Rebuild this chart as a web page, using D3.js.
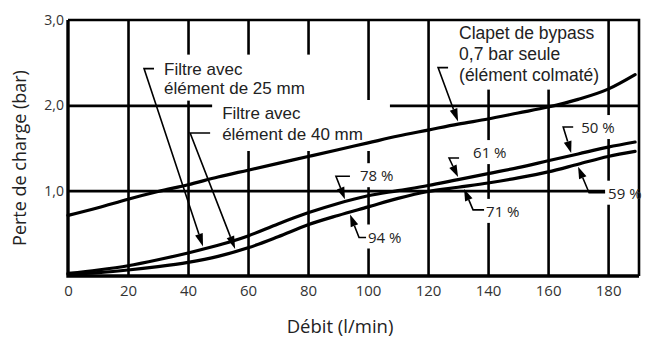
<!DOCTYPE html>
<html><head><meta charset="utf-8">
<script src="https://cdn.jsdelivr.net/npm/d3@7/dist/d3.min.js"></script>
<style>
body{margin:0;background:#fff;}
svg{display:block;}
</style></head>
<body>
<svg id="chart" width="646" height="337"></svg>
<script>
// ---- data ----
const flow     = [0,10,20,30,40,50,60,70,80,90,100,110,120,130,140,150,160,170,180,189];
const bypass   = [0.71,0.80,0.90,0.99,1.07,1.16,1.24,1.32,1.40,1.48,1.56,1.64,1.71,1.78,1.84,1.91,1.98,2.07,2.19,2.36];
const filter25 = [0.03,0.07,0.12,0.19,0.27,0.36,0.47,0.61,0.74,0.85,0.94,1.00,1.06,1.13,1.20,1.27,1.35,1.43,1.51,1.57];
const filter40 = [0.02,0.04,0.07,0.11,0.16,0.23,0.33,0.46,0.60,0.71,0.81,0.91,0.99,1.04,1.09,1.15,1.22,1.31,1.40,1.46];
const xTicks = [0,20,40,60,80,100,120,140,160,180];
const xGrid  = [20,40,60,80,100,120,140,160,180];
const yTicks = [1,2,3];
const yTickLabels = ["1,0","2,0","3,0"];
const yGrid = [1,2];
const xTitle = "Débit (l/min)";
const yTitle = "Perte de charge (bar)";
// annotations: text, target series, flow position
const annLines = [["Filtre avec","élément de 25 mm"],["Filtre avec","élément de 40 mm"],["Clapet de bypass","0,7 bar seule","(élément colmaté)"],["78 %"],["94 %"],["61 %"],["71 %"],["50 %"],["59 %"]];
const annSeries = ["f25","f40","bypass","f25","f40","f25","f40","f25","f40"];
const annFlow = [45,55.7,130,92.3,94,130,132,167.7,170];

// ---- layout / style ----
const W=646,H=337, L=68, R=639, T=20, B=276;
const svg=d3.select("#chart");
const x=d3.scaleLinear().domain([0,190.3]).range([L,R]);
const y=d3.scaleLinear().domain([0,3]).range([B,T]);
const seriesMap={bypass:bypass,f25:filter25,f40:filter40};
const interp=k=>d3.scaleLinear().domain(flow).range(seriesMap[k]);

const annStyle=[
 {side:-1,kink:[-59,-178],tick:10,txt:[20,6],lh:19,fs:17,font:"Liberation Sans, Arial, sans-serif",pad:[5,10,5,3],head:[13,4]},
 {side:-1,kink:[-45,-116],tick:20,txt:[32,-14],lh:21,fs:17,font:"Liberation Sans, Arial, sans-serif",pad:[10,27,4,7],head:[13,4]},
 {side:-1,kink:[-20,-54],tick:10,txt:[21,-29],lh:21,fs:17.5,font:"Liberation Sans, Arial, sans-serif",pad:[4,3,4,5],head:[13,4]},
 {side:-1,kink:[-9,-23],tick:14,txt:[24,5],lh:0,fs:15,font:"Open Sans, sans-serif",pad:[3,3,2,2],head:[12,4]},
 {side:1,kink:[9,23],tick:7,txt:[9,5],lh:0,fs:15,font:"Open Sans, sans-serif",pad:[3,3,2,2],head:[12,4]},
 {side:-1,kink:[-9,-19],tick:10,txt:[24,0],lh:0,fs:15,font:"Open Sans, sans-serif",pad:[3,3,2,2],head:[12,4]},
 {side:1,kink:[9,21],tick:11,txt:[13,7],lh:0,fs:15,font:"Open Sans, sans-serif",pad:[3,3,2,2],head:[12,4]},
 {side:-1,kink:[-8,-26],tick:10,txt:[18,6],lh:0,fs:15,font:"Open Sans, sans-serif",pad:[3,3,2,2],head:[12,4]},
 {side:1,kink:[11,26],tick:16,txt:[19,6],lh:0,fs:15,font:"Open Sans, sans-serif",pad:[3,3,2,2],head:[12,4]}
];

const gridG=svg.append("g");
const maskG=svg.append("g");
const curveG=svg.append("g");
const frameG=svg.append("g");
const leadG=svg.append("g");
const textG=svg.append("g");

// grid via axes
gridG.append("g").attr("transform",`translate(0,${B})`)
 .call(d3.axisBottom(x).tickValues(xGrid).tickSize(-(B-T)).tickFormat(""))
 .call(g=>g.select(".domain").remove())
 .call(g=>g.selectAll("line").attr("stroke","#000").attr("stroke-width",2.6));
gridG.append("g").attr("transform",`translate(${L},0)`)
 .call(d3.axisLeft(y).tickValues(yGrid).tickSize(-(R-L)).tickFormat(""))
 .call(g=>g.select(".domain").remove())
 .call(g=>g.selectAll("line").attr("stroke","#000").attr("stroke-width",2.6));

// tick labels
const xa=svg.append("g").attr("transform",`translate(0,${B})`)
 .call(d3.axisBottom(x).tickValues(xTicks).tickSize(0).tickPadding(9));
xa.select(".domain").remove();
xa.selectAll("text").attr("font-family","Open Sans, sans-serif").attr("font-size",15).attr("fill","#333");
const ya=svg.append("g").attr("transform",`translate(${L},0)`)
 .call(d3.axisLeft(y).tickValues(yTicks).tickSize(0).tickPadding(4).tickFormat((d,i)=>yTickLabels[i]));
ya.select(".domain").remove();
ya.selectAll("text").attr("font-family","Open Sans, sans-serif").attr("font-size",14).attr("fill","#333");

// titles
svg.append("text").attr("x",340).attr("y",333).attr("text-anchor","middle")
 .attr("font-family","Open Sans, sans-serif").attr("font-size",18.5).attr("fill","#222").text(xTitle);
svg.append("text").attr("transform","translate(26,158) rotate(-90)").attr("text-anchor","middle")
 .attr("font-family","Open Sans, sans-serif").attr("font-size",18).attr("fill","#222").text(yTitle);

// curves
const line=d3.line().x((d,i)=>x(flow[i])).y(d=>y(d)).curve(d3.curveMonotoneX);
[bypass,filter25,filter40].forEach(s=>{
 curveG.append("path").attr("d",line(s)).attr("fill","none").attr("stroke","#000").attr("stroke-width",3.2).attr("stroke-linecap","round");
});

// frame
frameG.append("path").attr("d",`M${L},${T}H${R}V${B}`).attr("fill","none").attr("stroke","#000").attr("stroke-width",2.6);
frameG.append("path").attr("d",`M${L},${T}V${B}H${R}`).attr("fill","none").attr("stroke","#000").attr("stroke-width",3.4);

// annotations
annLines.forEach((lines,i)=>{
 const st=annStyle[i];
 const tx=x(annFlow[i]);
 const ty=y(interp(annSeries[i])(annFlow[i]))+st.side*2.5;
 const kx=tx+st.kink[0], ky=ty+st.kink[1];
 const t=textG.append("text").attr("font-family",st.font).attr("font-size",st.fs).attr("fill","#222");
 lines.forEach((s,j)=>t.append("tspan").attr("x",kx+st.txt[0]).attr("y",ky+st.txt[1]+j*st.lh).text(s));
 const bb=t.node().getBBox();
 maskG.append("rect").attr("x",bb.x-st.pad[0]).attr("y",bb.y-st.pad[2])
  .attr("width",bb.width+st.pad[0]+st.pad[1]).attr("height",bb.height+st.pad[2]+st.pad[3]).attr("fill","#fff");
 const hl=st.head[0], hw=st.head[1];
 const dx=tx-kx, dy=ty-ky, len=Math.hypot(dx,dy), ux=dx/len, uy=dy/len;
 const bx=tx-ux*hl, by=ty-uy*hl;
 leadG.append("path").attr("d",`M${kx+st.tick},${ky}H${kx}L${bx},${by}`)
  .attr("fill","none").attr("stroke","#000").attr("stroke-width",1.6);
 leadG.append("path").attr("d",`M${tx},${ty}L${bx-uy*hw},${by+ux*hw}L${bx+uy*hw},${by-ux*hw}Z`).attr("fill","#000");
});
</script>
</body></html>
